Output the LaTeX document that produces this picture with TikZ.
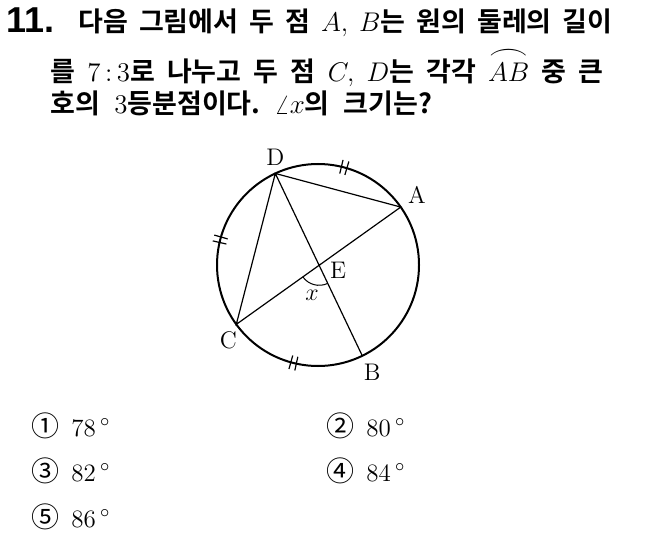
\RequirePackage{fix-cm}
\documentclass[tikz,border=0pt]{standalone}
\usepackage{fontspec}
\usetikzlibrary{positioning,angles}
\newfontfamily\krbold{Noto Sans CJK KR Bold}
\newfontfamily\krreg{Noto Sans CJK KR}
\newfontfamily\headfont{Liberation Sans}
\newcommand\cnum[1]{{\krreg\fontsize{14}{15}\selectfont #1}\hspace{6pt}}
\frenchspacing
\tikzset{
  rim/.style={line width=1pt},
  chord/.style={line width=0.6pt},
  tickmark/.style={line width=0.6pt},
  lbl/.style={inner sep=0pt, font=\fontsize{12}{14}\selectfont},
  qtext/.style={anchor=base west, inner sep=0pt, font=\krbold\fontsize{13.5}{16}\selectfont},
  choice/.style={anchor=base west, inner sep=0pt, font=\fontsize{12.5}{15}\selectfont}
}
\begin{document}
\begin{tikzpicture}[x=0.5pt,y=0.5pt]
	\useasboundingbox (0,0) rectangle (667,-545);

	% question
	\node[anchor=base west, inner sep=0pt, font=\headfont\bfseries\fontsize{18}{20}\selectfont] (num) at (6,-33) {11.};
	\node[qtext] (line1) at (78,-32) {\makebox[267pt][s]{다음 그림에서 두 점 $A,$ $B$는 원의 둘레의 길이}};
	\node[qtext] (line2) at (50,-82) {\makebox[276.5pt][s]{를 $7\mskip3mu{:}\mskip3mu3$로 나누고 두 점 $C,$ $D$는 각각 $\stackrel{\scalebox{1.5}[1]{$\frown$}}{AB}$ 중 큰}};
	\node[qtext] (line3) at (50,-114) {\makebox[191pt][s]{호의 $3$등분점이다. $\angle x$의 크기는?}};

	% circle and points
	\coordinate (O) at (318,-265);
	\coordinate (A) at ([shift={(35:101)}]O);
	\coordinate (D) at ([shift={(115:101)}]O);
	\coordinate (C) at ([shift={(216:101)}]O);
	\coordinate (B) at ([shift={(296:101)}]O);
	\draw[rim] (O) circle (101);
	\draw[chord] (B) -- (D) -- (A) -- (C) -- (D);
	\coordinate (E) at (intersection of A--C and D--B);
	\pic[draw, line width=0.5pt, angle radius=10pt] {angle=C--E--B};

	% equal arcs
	\foreach \t in {75,165.5,256}
		\foreach \s in {-1.6,1.6}
			\draw[tickmark] ([shift={(\t+\s:94)}]O) -- ([shift={(\t+\s:108)}]O);

	\node[lbl] (lD) [above=4pt of D] {D};
	\node[lbl] (lA) [above right=1.5pt and 3.5pt of A] {A};
	\node[lbl] (lE) at ([shift={(19,-5)}]E) {E};
	\node[lbl] (lx) at ([shift={(-7,-30)}]E) {$x$};
	\node[lbl] (lC) at ([shift={(-8,-16)}]C) {C};
	\node[lbl] (lB) at ([shift={(10,-17)}]B) {B};

	% choices
	\node[choice] (c1) at (31,-436) {\cnum{①}$78\,^{\circ}$};
	\node[choice] (c2) at (326,-436) {\cnum{②}$80\,^{\circ}$};
	\node[choice] (c3) at (31,-481) {\cnum{③}$82\,^{\circ}$};
	\node[choice] (c4) at (326,-481) {\cnum{④}$84\,^{\circ}$};
	\node[choice] (c5) at (31,-527) {\cnum{⑤}$86\,^{\circ}$};
\end{tikzpicture}
\end{document}
